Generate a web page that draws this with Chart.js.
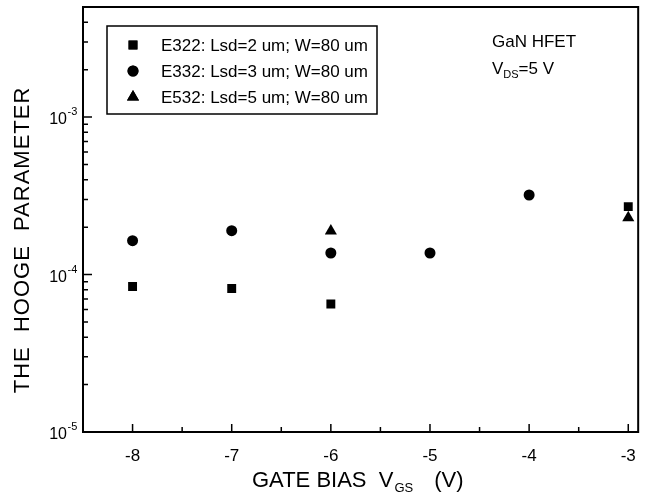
<!DOCTYPE html>
<html>
<head>
<meta charset="utf-8">
<script src="https://cdn.jsdelivr.net/npm/chart.js@4/dist/chart.umd.min.js"></script>
<style>
  html, body { margin: 0; padding: 0; background: #fff; }
  #wrap { width: 650px; height: 502px; }
</style>
</head>
<body>
<div id="wrap"><canvas id="canvas" width="650" height="502"></canvas></div>
<script>
// gate bias values (V)
var gateBias = [-8, -7, -6, -5, -4, -3];
// Hooge parameter per device, null = not measured
var e322 = [8.4e-5, 8.15e-5, 6.5e-5, null, null, 2.7e-4];
var e332 = [1.64e-4, 1.9e-4, 1.37e-4, 1.37e-4, 3.2e-4, null];
var e532 = [null, null, 1.89e-4, null, null, 2.29e-4];
var seriesNames = ['E322: Lsd=2 um; W=80 um', 'E332: Lsd=3 um; W=80 um', 'E532: Lsd=5 um; W=80 um'];
var xTickValues = [-8, -7, -6, -5, -4, -3];
var yDecades = [-5, -4, -3];

var FONT = '"Liberation Sans", Arial, Helvetica, sans-serif';

function toPoints(vals) {
    var pts = [];
    for (var i = 0; i < gateBias.length; i++) {
        if (vals[i] != null) pts.push({x: gateBias[i], y: vals[i]});
    }
    return pts;
}

var framePlugin = {
    id: 'frame',
    afterDraw: function(chart) {
        var ctx = chart.ctx;
        var a = chart.chartArea;
        var xs = chart.scales.x, ys = chart.scales.y;
        ctx.save();
        ctx.strokeStyle = '#000';
        ctx.fillStyle = '#000';

        // box around plot
        ctx.lineWidth = 2;
        ctx.strokeRect(a.left, a.top, a.right - a.left, a.bottom - a.top);

        // inward ticks on x axis
        ctx.lineWidth = 1.5;
        ctx.beginPath();
        for (var v = -8.5; v <= -3; v += 0.5) {
            var px = xs.getPixelForValue(v);
            if (px <= a.left + 1) continue;
            var len = (v % 1 === 0) ? 8 : 5;
            ctx.moveTo(px, a.bottom);
            ctx.lineTo(px, a.bottom - len);
        }
        // inward ticks on y axis
        for (var d = -5; d <= -3; d++) {
            for (var m = 1; m <= 9; m++) {
                var val = m * Math.pow(10, d);
                if (val > ys.max) break;
                var py = ys.getPixelForValue(val);
                var l = (m === 1) ? 9 : 5;
                ctx.moveTo(a.left, py);
                ctx.lineTo(a.left + l, py);
            }
        }
        ctx.stroke();

        // y tick labels with superscript exponent
        ctx.textBaseline = 'middle';
        yDecades.forEach(function(dd) {
            var py = ys.getPixelForValue(Math.pow(10, dd));
            ctx.font = '16px ' + FONT;
            ctx.textAlign = 'right';
            ctx.fillText('10', 67, py + 3);
            ctx.font = '11px ' + FONT;
            ctx.textAlign = 'left';
            ctx.fillText('-' + Math.abs(dd), 67.5, py - 5);
        });

        // y axis title
        ctx.save();
        ctx.translate(23, 240);
        ctx.rotate(-Math.PI / 2);
        ctx.font = '22px ' + FONT;
        ctx.letterSpacing = '1px';
        ctx.textAlign = 'center';
        ctx.textBaseline = 'middle';
        ctx.fillText('THE  HOOGE  PARAMETER', 0, 0);
        ctx.restore();

        // x axis title with subscript
        ctx.textAlign = 'left';
        ctx.textBaseline = 'alphabetic';
        var x0 = 252, base = 487;
        ctx.font = '22px ' + FONT;
        ctx.fillText('GATE BIAS  V', x0, base);
        var w = ctx.measureText('GATE BIAS  V').width;
        ctx.font = '13px ' + FONT;
        ctx.fillText('GS', x0 + w + 1, base + 5);
        var w2 = ctx.measureText('GS').width;
        ctx.font = '22px ' + FONT;
        ctx.fillText('(V)', x0 + w + w2 + 22, base);

        // annotation
        ctx.font = '17px ' + FONT;
        ctx.fillText('GaN HFET', 492, 47);
        ctx.fillText('V', 492, 74);
        var wv = ctx.measureText('V').width;
        ctx.font = '11px ' + FONT;
        ctx.fillText('DS', 492 + wv, 78);
        var wd = ctx.measureText('DS').width;
        ctx.font = '17px ' + FONT;
        ctx.fillText('=5 V', 492 + wv + wd, 74);

        // legend box
        ctx.lineWidth = 1.5;
        ctx.strokeRect(107, 26, 270, 88);
        ctx.textBaseline = 'middle';
        ctx.font = '17px ' + FONT;
        chart.data.datasets.forEach(function(ds, i) {
            var ry = 45 + i * 26;
            Chart.helpers.drawPoint(ctx, {
                pointStyle: ds.pointStyle,
                radius: ds.pointRadius,
                borderWidth: 0
            }, 133, ry);
            ctx.fill();
            ctx.fillText(ds.label, 161, ry + 1);
        });
        ctx.restore();
    }
};

window.onload = function() {
    var ctx = document.getElementById('canvas').getContext('2d');
    new Chart(ctx, {
        type: 'scatter',
        data: {
            datasets: [{
                label: seriesNames[0],
                data: toPoints(e322),
                pointStyle: 'rect',
                pointRadius: 6.3,
                backgroundColor: '#000',
                borderColor: '#000',
                borderWidth: 0
            }, {
                label: seriesNames[1],
                data: toPoints(e332),
                pointStyle: 'circle',
                pointRadius: 5.5,
                backgroundColor: '#000',
                borderColor: '#000',
                borderWidth: 0
            }, {
                label: seriesNames[2],
                data: toPoints(e532),
                pointStyle: 'triangle',
                pointRadius: 7,
                backgroundColor: '#000',
                borderColor: '#000',
                borderWidth: 0
            }]
        },
        options: {
            responsive: false,
            animation: false,
            layout: { padding: { left: 83, top: 5, right: 10, bottom: 0 } },
            plugins: {
                legend: { display: false },
                tooltip: { enabled: false }
            },
            scales: {
                x: {
                    type: 'linear',
                    min: -8.5,
                    max: -2.9,
                    afterBuildTicks: function(scale) {
                        scale.ticks = xTickValues.map(function(v) { return {value: v}; });
                    },
                    afterFit: function(scale) { scale.height = 70; },
                    grid: { display: false, drawTicks: false },
                    border: { display: false },
                    ticks: {
                        color: '#000',
                        padding: 14,
                        maxRotation: 0,
                        font: { family: FONT, size: 17 }
                    }
                },
                y: {
                    type: 'logarithmic',
                    min: 1e-5,
                    max: 5e-3,
                    afterFit: function(scale) { scale.width = 0; },
                    grid: { display: false, drawTicks: false },
                    border: { display: false },
                    ticks: { display: false }
                }
            }
        },
        plugins: [framePlugin]
    });
};
</script>
</body>
</html>
